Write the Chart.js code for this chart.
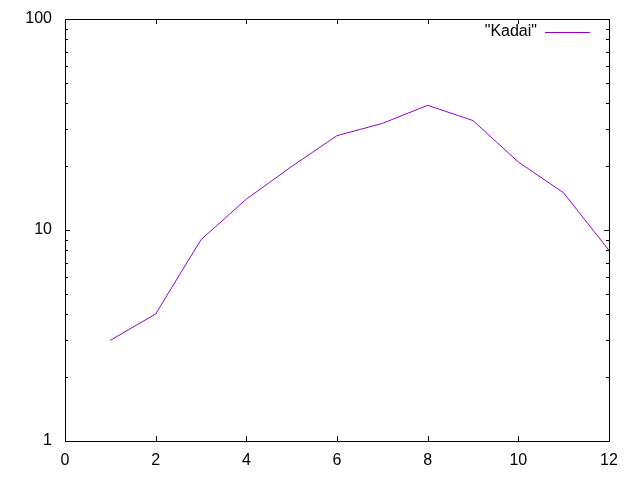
<!DOCTYPE html>
<html>
<head>
<meta charset="utf-8">
<script src="https://cdn.jsdelivr.net/npm/chart.js@4/dist/chart.umd.min.js"></script>
<style>
  html, body { margin: 0; padding: 0; background: #fff; }
  #wrap { width: 640px; height: 480px; }
</style>
</head>
<body>
<div id="wrap"><canvas id="lineChart" width="640" height="480"></canvas></div>
<script>
const meses = [1, 2, 3, 4, 5, 6, 7, 8, 9, 10, 11, 12];
const kadai = [3, 4, 9, 14, 20, 28, 32, 39, 33, 21, 15, 8];
const serieNombre = '"Kadai"';
const xTicks = [0, 2, 4, 6, 8, 10, 12];
const yTicks = [1, 10, 100];

const FONT = { family: '"Liberation Sans", Arial, sans-serif', size: 16 };
const COLOR = '#9400d3';

// marco, ticks hacia adentro y leyenda estilo gnuplot
const marcoPlugin = {
  id: 'marco',
  afterDraw(chart) {
    const ctx = chart.ctx;
    const a = chart.chartArea;
    const x = chart.scales.x;
    const y = chart.scales.y;
    ctx.save();
    ctx.strokeStyle = '#000';
    ctx.lineWidth = 1;
    ctx.beginPath();
    ctx.rect(Math.round(a.left) + 0.5, Math.round(a.top) + 0.5,
      Math.round(a.right - a.left), Math.round(a.bottom - a.top));
    xTicks.forEach(v => {
      const px = Math.round(x.getPixelForValue(v)) + 0.5;
      ctx.moveTo(px, a.bottom); ctx.lineTo(px, a.bottom - 5);
      ctx.moveTo(px, a.top); ctx.lineTo(px, a.top + 5);
    });
    for (let d = 1; d <= 100; d *= 10) {
      for (let m = 1; m <= 9; m++) {
        const v = d * m;
        if (v > 100) break;
        const len = m === 1 ? 5 : 3;
        const py = Math.round(y.getPixelForValue(v)) + 0.5;
        ctx.moveTo(a.left, py); ctx.lineTo(a.left + len, py);
        ctx.moveTo(a.right, py); ctx.lineTo(a.right - len, py);
      }
    }
    ctx.stroke();

    // leyenda
    ctx.font = FONT.size + 'px ' + FONT.family;
    ctx.fillStyle = '#000';
    ctx.textAlign = 'right';
    ctx.textBaseline = 'middle';
    const ly = a.top + 13;
    ctx.fillText(serieNombre, a.right - 72, ly);
    ctx.strokeStyle = COLOR;
    ctx.beginPath();
    ctx.moveTo(a.right - 64, Math.round(ly) + 0.5);
    ctx.lineTo(a.right - 19, Math.round(ly) + 0.5);
    ctx.stroke();
    ctx.restore();
  }
};

const lineChartCtx = document.getElementById('lineChart').getContext('2d');
new Chart(lineChartCtx, {
  type: 'line',
  data: {
    labels: meses,
    datasets: [{
      label: serieNombre,
      data: meses.map((m, i) => ({ x: m, y: kadai[i] })),
      borderColor: COLOR,
      borderWidth: 1,
      pointRadius: 0,
      tension: 0,
      fill: false
    }]
  },
  options: {
    responsive: false,
    animation: false,
    layout: { padding: { top: 19, right: 31, left: 0, bottom: 0 } },
    plugins: { legend: { display: false }, tooltip: { enabled: false } },
    scales: {
      x: {
        type: 'linear',
        min: 0,
        max: 12,
        afterBuildTicks: s => { s.ticks = xTicks.map(v => ({ value: v })); },
        afterFit: s => { s.height = 39; s.paddingLeft = 0; s.paddingRight = 0; },
        grid: { display: false, drawTicks: false },
        border: { display: false },
        ticks: { color: '#000', font: FONT, padding: 10, maxRotation: 0 }
      },
      y: {
        type: 'logarithmic',
        min: 1,
        max: 100,
        afterBuildTicks: s => { s.ticks = yTicks.map(v => ({ value: v })); },
        afterFit: s => { s.width = 65; s.paddingTop = 0; s.paddingBottom = 0; },
        grid: { display: false, drawTicks: false },
        border: { display: false },
        ticks: { color: '#000', font: FONT, padding: 13, callback: v => String(v) }
      }
    }
  },
  plugins: [marcoPlugin]
});
</script>
</body>
</html>
